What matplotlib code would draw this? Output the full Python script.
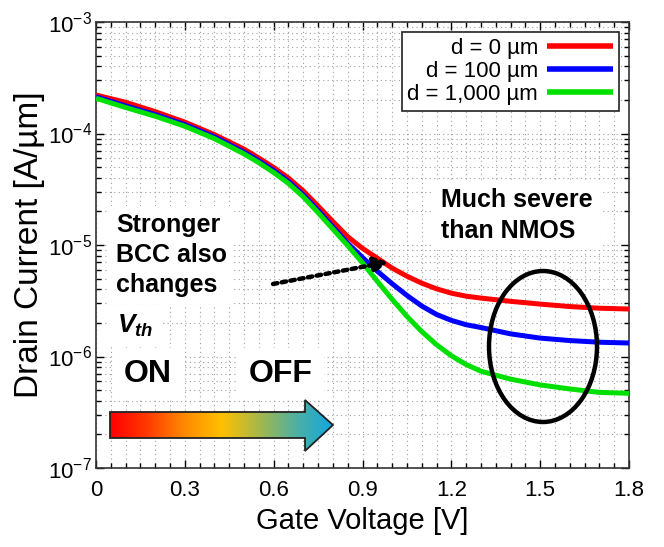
import numpy as np
import matplotlib
matplotlib.use('Agg')
import matplotlib.pyplot as plt
from matplotlib.patches import Polygon, Ellipse
from matplotlib.colors import LinearSegmentedColormap
from matplotlib.ticker import MultipleLocator, LogLocator, NullFormatter

plt.rcParams['font.family'] = ['Liberation Sans', 'DejaVu Sans']
plt.rcParams['mathtext.fontset'] = 'custom'
plt.rcParams['mathtext.rm'] = 'Liberation Sans'
plt.rcParams['mathtext.it'] = 'Liberation Sans:italic'
plt.rcParams['mathtext.bf'] = 'Liberation Sans:bold'
plt.rcParams['mathtext.bfit'] = 'Liberation Sans:italic:bold'
plt.rcParams['axes.unicode_minus'] = False

# -----------------------
# Data, log10 of drain current [A/um]
# -----------------------
gate_v = [0.0, 0.1, 0.2, 0.3, 0.4, 0.5, 0.55, 0.6, 0.65, 0.7, 0.75, 0.8, 0.85,
          0.9, 0.95, 1.0, 1.05, 1.1, 1.15, 1.2, 1.25, 1.3, 1.4, 1.5, 1.6, 1.7, 1.8]
log_id_d0 = [-3.655, -3.72, -3.804, -3.898, -4.01, -4.14, -4.22, -4.305, -4.40, -4.515, -4.65, -4.79, -4.925,
             -5.03, -5.118, -5.207, -5.28, -5.342, -5.393, -5.432, -5.459, -5.476, -5.505, -5.53, -5.552, -5.567, -5.574]
log_id_d100 = [-3.67, -3.752, -3.83, -3.92, -4.03, -4.167, -4.245, -4.332, -4.43, -4.55, -4.69, -4.838, -4.985,
               -5.112, -5.235, -5.347, -5.452, -5.547, -5.623, -5.676, -5.715, -5.74, -5.797, -5.835, -5.857, -5.872, -5.879]
log_id_d1000 = [-3.684, -3.767, -3.845, -3.935, -4.046, -4.183, -4.262, -4.35, -4.448, -4.568, -4.71, -4.858, -5.005,
                -5.16, -5.325, -5.487, -5.64, -5.776, -5.894, -5.993, -6.072, -6.132, -6.203, -6.255, -6.291, -6.322, -6.33]

labels = ['d = 0 µm', 'd = 100 µm', 'd = 1,000 µm']
colors = ['#ff0000', '#0000ff', '#00e000']
xtick_vals = [0, 0.3, 0.6, 0.9, 1.2, 1.5, 1.8]
xtick_labels = ['0', '0.3', '0.6', '0.9', '1.2', '1.5', '1.8']

W, H = 664, 547
fig = plt.figure(figsize=(W / 100, H / 100), dpi=100)
ax = fig.add_axes([96 / W, 1 - 468 / H, (629 - 96) / W, (468 - 22) / H])

for logs, lab, col in zip([log_id_d0, log_id_d100, log_id_d1000], labels, colors):
    ax.plot(gate_v, 10 ** np.array(logs), color=col, lw=3.6, label=lab, zorder=3,
            solid_capstyle='butt', solid_joinstyle='round')

ax.set_yscale('log')
ax.set_xlim(0, 1.8)
ax.set_ylim(1e-7, 1e-3)
ax.set_xticks(xtick_vals)
ax.set_xticklabels(xtick_labels)
ax.xaxis.set_minor_locator(MultipleLocator(0.05))
ax.yaxis.set_major_locator(LogLocator(base=10, numticks=10))
ax.yaxis.set_minor_locator(LogLocator(base=10, subs=np.arange(2, 10), numticks=20))
ax.yaxis.set_minor_formatter(NullFormatter())

ax.tick_params(which='both', direction='in', top=True, right=True, labelsize=16, width=1.0)
ax.tick_params(which='major', length=6)
ax.tick_params(which='minor', length=3.5)
ax.tick_params(axis='x', pad=9)
ax.tick_params(axis='y', pad=3)
ax.set_axisbelow(True)
ax.grid(True, which='both', color='#a0a0a0', lw=0.8, linestyle=(0, (1, 3)))
for s in ax.spines.values():
    s.set_linewidth(1.2)
    s.set_color('#333333')

ax.set_xlabel('Gate Voltage [V]', fontsize=21, labelpad=4)
ax.set_ylabel('Drain Current [A/µm]', fontsize=24, labelpad=2)

leg = ax.legend(loc='upper right', fontsize=16, markerfirst=False, handlelength=3.0,
                labelspacing=0.1, borderpad=0.25, handletextpad=0.4, borderaxespad=0.45,
                fancybox=False, framealpha=1)
leg.get_frame().set_edgecolor('#222222')
leg.get_frame().set_linewidth(1.2)
leg._legend_box.align = 'right'
for h in leg.get_lines():
    h.set_linewidth(4)

# -----------------------
# Overlay in pixel coords for annotations
# -----------------------
ov = fig.add_axes([0, 0, 1, 1], zorder=5)
ov.set_xlim(0, W)
ov.set_ylim(H, 0)
ov.axis('off')

box = dict(facecolor='white', edgecolor='none', pad=5)
ov.text(116, 213, 'Stronger\nBCC also\nchanges', fontsize=18, fontweight='bold',
        ha='left', va='top', linespacing=1.32, bbox=box)
ov.text(117, 326, r'$\mathbfit{V}_{\mathbfit{th}}$', fontsize=19, ha='left', va='center', bbox=box)
ov.text(441, 188, 'Much severe\nthan NMOS', fontsize=18, fontweight='bold',
        ha='left', va='top', linespacing=1.35, bbox=box)
ov.text(124, 374, 'ON', fontsize=23, fontweight='bold', ha='left', va='center',
        bbox=dict(facecolor='white', edgecolor='none', pad=8))
ov.text(249, 374, 'OFF', fontsize=23, fontweight='bold', ha='left', va='center',
        bbox=dict(facecolor='white', edgecolor='none', pad=8))

# dotted arrow
ov.annotate('', xy=(388, 262), xytext=(273, 284),
            arrowprops=dict(arrowstyle='-|>,head_length=0.8,head_width=0.45', lw=3.2,
                            linestyle=(0, (1, 1)), color='black', shrinkA=0, shrinkB=0))

# ellipse
ov.add_patch(Ellipse((543, 346.5), 108, 151, fill=False, lw=3.2, edgecolor='black'))

# gradient arrow
arrow_pts = [(110, 412), (305, 412), (305, 400), (333, 425), (305, 451), (305, 438), (110, 438)]
grad_cmap = LinearSegmentedColormap.from_list(
    'onoff', ['#ff0000', '#ff3a00', '#ff8a00', '#ffc000', '#a8b848', '#50b0a0', '#10a8e0'])
grad = np.linspace(0, 1, 256).reshape(1, -1)
img = ov.imshow(grad, cmap=grad_cmap, extent=[110, 333, 451, 400], aspect='auto', zorder=6)
poly = Polygon(arrow_pts, closed=True, facecolor='none', edgecolor='#222222', lw=1.3, zorder=7)
ov.add_patch(poly)
img.set_clip_path(poly)
ov.set_xlim(0, W)
ov.set_ylim(H, 0)

fig.savefig('out.png', dpi=100)
